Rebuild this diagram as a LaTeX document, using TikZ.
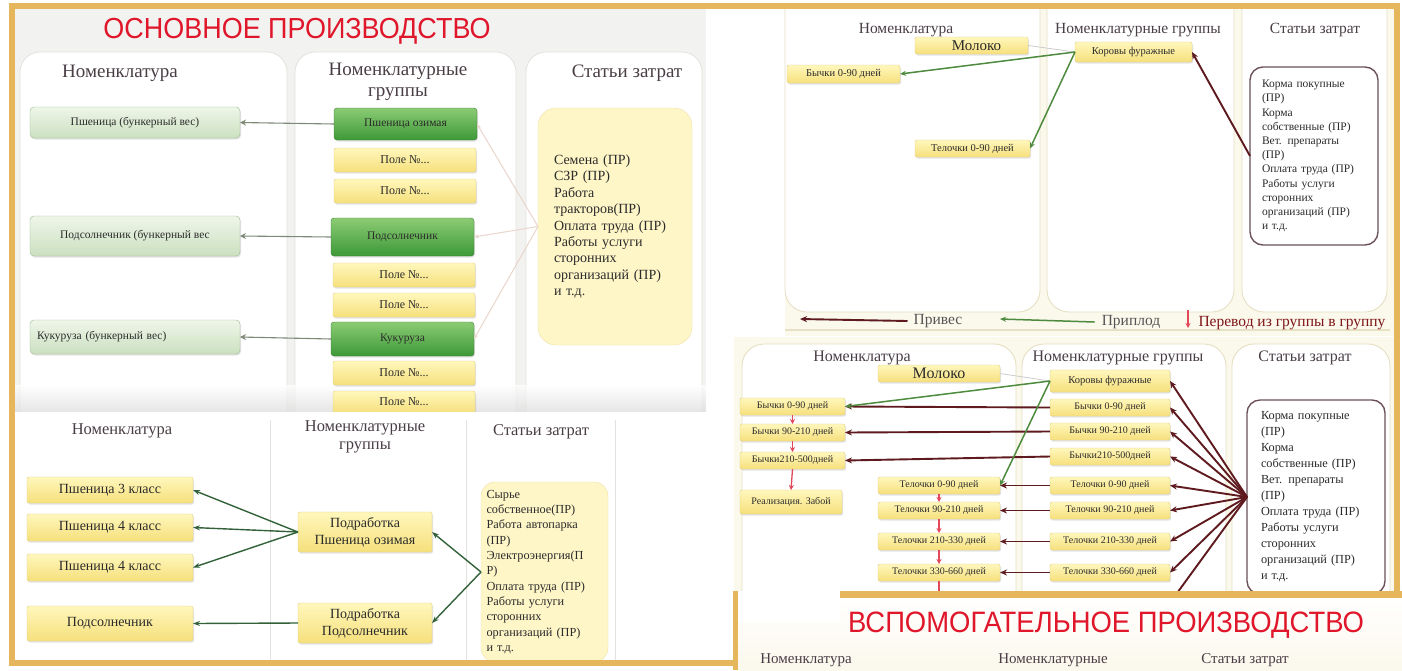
\documentclass[tikz,border=0pt]{standalone}
\usepackage{fontspec}
\setmainfont{Liberation Serif}
\newfontfamily\tfont[FakeStretch=0.93]{Liberation Sans}
\usetikzlibrary{arrows.meta,shadows}
\newcommand\fsz[2]{\fontsize{#1}{#2}\selectfont}
\newcommand\mybox[7]{\node[#6, minimum width={(#4-#2)*1pt}, minimum height={(#5-#3)*1pt}] (#1) at ({(#2+#4)/2},{(#3+#5)/2}) {#7};}
\definecolor{gold}{HTML}{E6B65C}
\definecolor{tlbg}{HTML}{F2F2F0}
\definecolor{colln}{HTML}{E2E2DE}
\definecolor{crm}{HTML}{FBF8EC}
\definecolor{crmln}{HTML}{E6E0C4}
\definecolor{hdr}{HTML}{4A3E46}
\definecolor{redt}{HTML}{E0162B}
\definecolor{maroon}{HTML}{5E1A1E}
\definecolor{grn}{HTML}{4E8B3E}
\definecolor{dgrn}{HTML}{33623A}
\definecolor{garr}{HTML}{7E8A78}
\definecolor{faintc}{HTML}{EAD6CC}
\definecolor{reda}{HTML}{E2485A}
\definecolor{yelT}{HTML}{FFF7BC}
\definecolor{yelB}{HTML}{F6E07C}
\definecolor{yelD}{HTML}{E2CF7E}
\definecolor{lgT}{HTML}{EEF6E9}
\definecolor{lgB}{HTML}{CBE0C0}
\definecolor{lgD}{HTML}{9CB98F}
\definecolor{dgT}{HTML}{8BCB74}
\definecolor{dgB}{HTML}{3D9937}
\definecolor{dgD}{HTML}{3B7F33}
\definecolor{cyF}{HTML}{FFF6C8}
\definecolor{cyD}{HTML}{EFE0A8}
\definecolor{cwD}{HTML}{6B5158}
\definecolor{txt}{HTML}{2B2B2B}
\tikzset{
  shd/.style={drop shadow={shadow xshift=1pt,shadow yshift=-1.5pt,opacity=0.22}},
  yel/.style={draw=yelD, top color=yelT, bottom color=yelB, rounded corners=2pt, inner sep=1pt, outer sep=0pt, text=txt, shd},
  gL/.style={draw=lgD, top color=lgT, bottom color=lgB, rounded corners=4pt, inner sep=1pt, outer sep=0pt, text=txt, font=\fsz{11.5}{13}, shd},
  gD/.style={draw=dgD, top color=dgT, bottom color=dgB, rounded corners=3pt, inner sep=1pt, outer sep=0pt, text=txt, font=\fsz{11.5}{13}, shd},
  costY/.style={draw=cyD, fill=cyF, rounded corners=18pt, align=left, text=txt, inner sep=0pt, outer sep=0pt},
  costW/.style={draw=cwD, line width=1.4pt, fill=white, rounded corners=13pt, align=left, text=txt, inner sep=0pt, outer sep=0pt},
  hd/.style={text=hdr, inner sep=0pt},
  ttl/.style={text=redt, font=\tfont\fsz{29}{31}, inner sep=0pt},
  aGray/.style={draw=garr, line width=1.1pt, -{Stealth[length=6pt,width=6pt]}},
  aFaint/.style={draw=faintc, line width=1pt, -{Stealth[length=5pt,width=4pt]}},
  aLight/.style={draw=black!20, line width=0.8pt},
  aDG/.style={draw=dgrn, line width=1.4pt, -{Stealth[length=7pt,width=5pt]}},
  aM/.style={draw=maroon, line width=1.9pt, -{Stealth[length=7pt,width=6pt]}},
  aG/.style={draw=grn, line width=1.5pt, -{Stealth[length=6pt,width=5pt]}},
  aR/.style={draw=reda, line width=1.3pt, -{Stealth[length=5pt,width=5pt]}},
  colT/.style={draw=colln, fill=white, rounded corners=20pt, line width=0.8pt},
  colR/.style={draw=crmln, fill=white, rounded corners=22pt, line width=0.9pt},
}
\begin{document}
\begin{tikzpicture}[x=1pt,y=-1pt]
\useasboundingbox (0,0) rectangle (1402,670);
\fill[white] (0,0) rectangle (1402,670);

% ================= top-left panel =================
\begin{scope}
\clip (14,9) rectangle (706,412);
\fill[tlbg] (14,9) rectangle (706,412);
\draw[colT] (20,52) rectangle (287,440);
\draw[colT] (295,52) rectangle (516,440);
\draw[colT] (526,52) rectangle (702,440);
\shade[top color=white, bottom color=black!14, opacity=0.7] (14,385) rectangle (706,412);
\end{scope}

\node[ttl] (t1) at (297,31) {ОСНОВНОЕ ПРОИЗВОДСТВО};
\node[hd, font=\fsz{19}{21}] (h1) at (120,73) {Номенклатура};
\node[hd, font=\fsz{19}{21}, align=center] (h2) at (398,82) {Номенклатурные\\группы};
\node[hd, font=\fsz{19}{21}] (h3) at (627,73) {Статьи затрат};

\mybox{pb}{30}{107}{240}{138}{gL}{Пшеница (бункерный вес)}
\mybox{podb}{30}{216}{240}{256}{gL}{Подсолнечник (бункерный вес}
\mybox{kb}{30}{320}{240}{354}{gL, text width=196pt, align=left}{Кукуруза (бункерный вес)}

\mybox{po}{334}{108}{477}{140}{gD}{Пшеница озимая}
\mybox{pod}{331}{218}{474}{256}{gD}{Подсолнечник}
\mybox{kuk}{331}{322}{474}{356}{gD}{Кукуруза}

\mybox{f1}{334}{148}{476}{172}{yel, font=\fsz{12}{13}}{Поле №...}
\mybox{f2}{334}{179}{476}{203}{yel, font=\fsz{12}{13}}{Поле №...}
\mybox{f3}{333}{263}{475}{287}{yel, font=\fsz{12}{13}}{Поле №...}
\mybox{f4}{333}{293}{475}{317}{yel, font=\fsz{12}{13}}{Поле №...}
\mybox{f5}{333}{361}{475}{385}{yel, font=\fsz{12}{13}}{Поле №...}
\mybox{f6}{333}{391}{475}{413}{yel, font=\fsz{12}{13}}{Поле №...}

\mybox{cost1}{538}{108}{692}{345}{costY, text width=122pt, font=\fsz{14}{16.4}}{Семена (ПР)\\СЗР (ПР)\\Работа\\тракторов(ПР)\\Оплата труда (ПР)\\Работы услуги\\сторонних\\организаций (ПР)\\и т.д.}

\draw[aGray] (po.west) -- (pb.east);
\draw[aGray] (pod.west) -- (podb.east);
\draw[aGray] (kuk.west) -- (kb.east);
\draw[aFaint] (cost1.west) -- (po.east);
\draw[aFaint] (cost1.west) -- (pod.east);
\draw[aFaint] (cost1.west) -- (kuk.east);

% ================= lower-left panel =================
\fill[white] (14,412) rectangle (732,662);
\draw[colln, line width=0.8pt] (270,420) -- (270,660);
\draw[colln, line width=0.8pt] (466,420) -- (466,660);
\draw[colln, line width=0.8pt] (615,420) -- (615,660);
\node[hd, font=\fsz{16.5}{18}] (h4) at (122,431) {Номенклатура};
\node[hd, font=\fsz{16.5}{18}, align=center] (h5) at (365,437) {Номенклатурные\\группы};
\node[hd, font=\fsz{16.5}{18}] (h6) at (541,432) {Статьи затрат};

\mybox{p3}{27}{477}{193}{503}{yel, font=\fsz{14}{15}}{Пшеница 3 класс}
\mybox{p4a}{27}{514}{193}{541}{yel, font=\fsz{14}{15}}{Пшеница 4 класс}
\mybox{p4b}{27}{554}{193}{581}{yel, font=\fsz{14}{15}}{Пшеница 4 класс}
\mybox{ps}{27}{606}{193}{641}{yel, font=\fsz{14}{15}}{Подсолнечник}
\mybox{pw}{298}{512}{432}{552}{yel, font=\fsz{14}{17}, align=center}{Подработка\\Пшеница озимая}
\mybox{pss}{298}{603}{432}{643}{yel, font=\fsz{14}{17}, align=center}{Подработка\\Подсолнечник}
\mybox{cost2}{481}{482}{608}{662}{costY, rounded corners=14pt, text width=116pt, font=\fsz{12.3}{15.3}}{Сырье\\собственное(ПР)\\Работа автопарка\\(ПР)\\Электроэнергия(П\\Р)\\Оплата труда (ПР)\\Работы услуги\\сторонних\\организаций (ПР)\\и т.д.}

\draw[aDG] (pw.west) -- (p3.east);
\draw[aDG] (pw.west) -- (p4a.east);
\draw[aDG] (pw.west) -- (p4b.east);
\draw[aDG] (pss.west) -- (ps.east);
\draw[aDG] (cost2.west) -- (pw.east);
\draw[aDG] (cost2.west) -- (pss.east);

% ================= top-right panel =================
\begin{scope}
\clip (737,9) rectangle (1394,336);
\fill[crm] (737,9) rectangle (1394,336);
\fill[white] (737,9) rectangle (785,336);
\draw[colR] (785,-30) rectangle (1040,312);
\draw[colR] (1047,-30) rectangle (1234,312);
\draw[colR] (1242,-30) rectangle (1387,312);
\draw[crmln, line width=1.5pt] (785,330) -- (1390,330);
\end{scope}
\node[hd, font=\fsz{15.5}{17}] (h7) at (906,30) {Номенклатура};
\node[hd, font=\fsz{15.5}{17}] (h8) at (1138,30) {Номенклатурные группы};
\node[hd, font=\fsz{15.5}{17}] (h9) at (1315,30) {Статьи затрат};

\mybox{milk1}{915}{37}{1028}{54}{yel, font=\fsz{15}{15}}{\hspace*{10pt}Молоко}
\mybox{cow1}{1075}{42}{1192}{62}{yel, font=\fsz{10.5}{11}}{Коровы фуражные}
\mybox{b1}{787}{65}{900}{83}{yel, font=\fsz{10.5}{11}}{Бычки 0-90 дней}
\mybox{tl1}{915}{140}{1030}{157}{yel, font=\fsz{10.5}{11}}{Телочки 0-90 дней}
\mybox{costw1}{1250}{67}{1378}{245}{costW, text width=104pt, font=\fsz{11.5}{14.2}}{Корма покупные\\(ПР)\\Корма\\собственные (ПР)\\Вет. препараты\\(ПР)\\Оплата труда (ПР)\\Работы услуги\\сторонних\\организаций (ПР)\\и т.д.}

\draw[aLight] (milk1.east) -- (cow1.west);
\draw[aG] (cow1.west) -- (b1.east);
\draw[aG] (cow1.west) -- (tl1.east);
\draw[aM] (costw1.west) -- (cow1.east);

% legend
\node[hd, text=txt!80, font=\fsz{15.5}{17}] (lg1) at (938,321) {Привес};
\node[hd, text=txt!80, font=\fsz{15.5}{17}] (lg2) at (1131,322) {Приплод};
\node[hd, text=maroon!80!red, font=\fsz{15.5}{17}] (lg3) at (1292,323) {Перевод из группы в группу};
\coordinate (la) at (800,319);
\coordinate (lb) at (1000,319);
\coordinate (lc1) at (1188,310);
\coordinate (lc2) at (1188,328);
\draw[aM] ([xshift=-6pt]lg1.west) -- (la);
\draw[aG] ([xshift=-7pt]lg2.west) -- (lb);
\draw[aR] (lc1) -- (lc2);

% ================= right-middle panel =================
\begin{scope}
\clip (734,337) rectangle (1396,596);
\fill[crm] (734,337) rectangle (1396,596);
\draw[colR] (742,344) rectangle (1016,640);
\draw[colR] (1022,344) rectangle (1226,640);
\draw[colR] (1232,344) rectangle (1390,640);
\end{scope}
\node[hd, font=\fsz{16}{17}] (h10) at (862,358) {Номенклатура};
\node[hd, font=\fsz{16}{17}] (h11) at (1118,358) {Номенклатурные группы};
\node[hd, font=\fsz{16}{17}] (h12) at (1305,358) {Статьи затрат};

\mybox{milk2}{878}{365}{1000}{382}{yel, font=\fsz{16}{16}}{Молоко}
\mybox{cow2}{1050}{370}{1170}{392}{yel, font=\fsz{10.5}{11}}{Коровы фуражные}
\mybox{nb0}{740}{398}{845}{415}{yel, font=\fsz{10}{11}}{Бычки 0-90 дней}
\mybox{nb1}{740}{424}{845}{441}{yel, font=\fsz{10}{11}}{Бычки 90-210 дней}
\mybox{nb2}{740}{452}{845}{469}{yel, font=\fsz{10}{11}}{Бычки210-500дней}
\mybox{real}{740}{490}{842}{514}{yel, font=\fsz{10}{11}}{Реализация. Забой}
\mybox{nt0}{878}{477}{1000}{494}{yel, font=\fsz{10}{11}}{Телочки 0-90 дней}
\mybox{nt1}{878}{502}{1000}{519}{yel, font=\fsz{10}{11}}{Телочки 90-210 дней}
\mybox{nt2}{878}{533}{1000}{550}{yel, font=\fsz{10}{11}}{Телочки 210-330 дней}
\mybox{nt3}{878}{564}{1000}{581}{yel, font=\fsz{10}{11}}{Телочки 330-660 дней}
\mybox{gb0}{1050}{399}{1170}{416}{yel, font=\fsz{10}{11}}{Бычки 0-90 дней}
\mybox{gb1}{1050}{423}{1170}{440}{yel, font=\fsz{10}{11}}{Бычки 90-210 дней}
\mybox{gb2}{1050}{448}{1170}{465}{yel, font=\fsz{10}{11}}{Бычки210-500дней}
\mybox{gt0}{1050}{477}{1170}{494}{yel, font=\fsz{10}{11}}{Телочки 0-90 дней}
\mybox{gt1}{1050}{502}{1170}{519}{yel, font=\fsz{10}{11}}{Телочки 90-210 дней}
\mybox{gt2}{1050}{533}{1170}{550}{yel, font=\fsz{10}{11}}{Телочки 210-330 дней}
\mybox{gt3}{1050}{564}{1170}{581}{yel, font=\fsz{10}{11}}{Телочки 330-660 дней}
\mybox{costw2}{1247}{400}{1385}{594}{costW, text width=110pt, font=\fsz{12.3}{16}}{Корма покупные\\(ПР)\\Корма\\собственные (ПР)\\Вет. препараты\\(ПР)\\Оплата труда (ПР)\\Работы услуги\\сторонних\\организаций (ПР)\\и т.д.}

\coordinate (fanend) at (1172,600);
\coordinate (tend) at (939,600);
\draw[aLight] (milk2.east) -- (cow2.west);
\foreach \g in {cow2,gb0,gb1,gb2,gt0,gt1,gt2,gt3} \draw[aM] (costw2.west) -- (\g.east);
\draw[maroon, line width=1.9pt] (costw2.west) -- (fanend);
\draw[aM] (gb0.west) -- (nb0.east);
\draw[aM] (gb1.west) -- (nb1.east);
\draw[aM] (gb2.west) -- (nb2.east);
\draw[aM] (gt0.west) -- (nt0.east);
\draw[aM] (gt1.west) -- (nt1.east);
\draw[aM] (gt2.west) -- (nt2.east);
\draw[aM] (gt3.west) -- (nt3.east);
\draw[aG] (cow2.west) -- (nb0.east);
\draw[aG] (cow2.west) -- (nt0.east);
\draw[aR] (nb0.south) -- (nb1.north);
\draw[aR] (nb1.south) -- (nb2.north);
\draw[aR] (nb2.south) -- (real.north);
\draw[aR] (nt0.south) -- (nt1.north);
\draw[aR] (nt1.south) -- (nt2.north);
\draw[aR] (nt2.south) -- (nt3.north);
\draw[reda, line width=1.3pt] (nt3.south) -- (tend);

% ================= bottom-right panel =================
\shade[top color=white, bottom color=crm] (737,596) rectangle (1402,670);
\fill[white] (738,591) rectangle (840,622);
\node[ttl, font=\tfont\fsz{29.5}{31}] (t2) at (1106,625) {ВСПОМОГАТЕЛЬНОЕ ПРОИЗВОДСТВО};
\node[hd, font=\fsz{15}{16}] (h13) at (806,660) {Номенклатура};
\node[hd, font=\fsz{15}{16}] (h14) at (1053,660) {Номенклатурные};
\node[hd, font=\fsz{15}{16}] (h15) at (1245,660) {Статьи затрат};

% ================= gold frames =================
\draw[gold, line width=6pt, line join=miter] (735,663) -- (12,663) -- (12,6) -- (1397,6) -- (1397,594);
\draw[gold, line width=7pt] (840,594) -- (1402,594);
\draw[gold, line width=5pt] (735,591) -- (735,670);
\end{tikzpicture}
\end{document}
